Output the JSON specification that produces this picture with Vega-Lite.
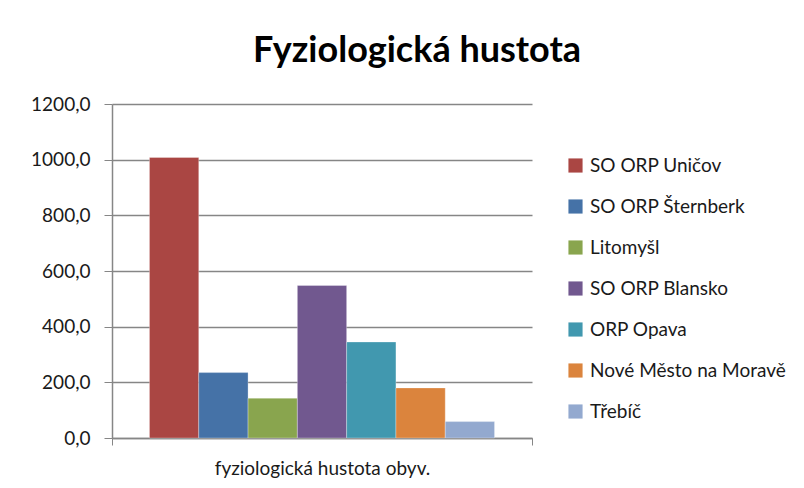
{
  "$schema": "https://vega.github.io/schema/vega-lite/v6.json",
  "autosize": {"type": "none"},
  "padding": {"left": 112, "top": 104, "right": 272, "bottom": 50},
  "width": 420,
  "height": 334,
  "background": "white",
  "title": {
    "text": "Fyziologická hustota",
    "font": "Lato",
    "fontSize": 36,
    "fontWeight": "bold",
    "color": "#000000",
    "anchor": "middle",
    "frame": "group",
    "baseline": "alphabetic",
    "offset": -3,
    "dx": 95
  },
  "data": {
    "values": [
      {"category": "fyziologická hustota obyv.", "region": "SO ORP Uničov", "value": 1008},
      {"category": "fyziologická hustota obyv.", "region": "SO ORP Šternberk", "value": 235},
      {"category": "fyziologická hustota obyv.", "region": "Litomyšl", "value": 143},
      {"category": "fyziologická hustota obyv.", "region": "SO ORP Blansko", "value": 548},
      {"category": "fyziologická hustota obyv.", "region": "ORP Opava", "value": 345},
      {"category": "fyziologická hustota obyv.", "region": "Nové Město na Moravě", "value": 180},
      {"category": "fyziologická hustota obyv.", "region": "Třebíč", "value": 59}
    ]
  },
  "mark": {"type": "bar", "stroke": "white", "strokeWidth": 0.5, "strokeOpacity": 0.6},
  "encoding": {
    "x": {
      "field": "category",
      "type": "nominal",
      "scale": {"paddingInner": 0, "paddingOuter": 0},
      "axis": {
        "title": null,
        "labelAngle": 0,
        "labelFont": "Lato",
        "labelFontSize": 19,
        "labelColor": "#1a1a1a",
        "labelPadding": 14,
        "labelLimit": 400,
        "tickBand": "extent",
        "tickSize": 7,
        "tickColor": "#868686",
        "domainColor": "#868686",
        "domainWidth": 1.5
      }
    },
    "xOffset": {
      "field": "region",
      "type": "nominal",
      "sort": ["SO ORP Uničov", "SO ORP Šternberk", "Litomyšl", "SO ORP Blansko", "ORP Opava", "Nové Město na Moravě", "Třebíč"],
      "scale": {"paddingInner": 0, "paddingOuter": 0.76}
    },
    "y": {
      "field": "value",
      "type": "quantitative",
      "scale": {"domain": [0, 1200], "nice": false},
      "axis": {
        "title": null,
        "values": [0, 200, 400, 600, 800, 1000, 1200],
        "format": ".1f",
        "labelFont": "Lato",
        "labelFontSize": 19,
        "labelColor": "#1a1a1a",
        "labelPadding": 14,
        "tickSize": 8,
        "tickColor": "#868686",
        "domainColor": "#868686",
        "domainWidth": 1.5,
        "grid": true,
        "gridColor": "#868686",
        "gridWidth": 1.5
      }
    },
    "color": {
      "field": "region",
      "type": "nominal",
      "sort": ["SO ORP Uničov", "SO ORP Šternberk", "Litomyšl", "SO ORP Blansko", "ORP Opava", "Nové Město na Moravě", "Třebíč"],
      "scale": {
        "domain": ["SO ORP Uničov", "SO ORP Šternberk", "Litomyšl", "SO ORP Blansko", "ORP Opava", "Nové Město na Moravě", "Třebíč"],
        "range": ["#AA4643", "#4572A7", "#89A54E", "#71588F", "#4198AF", "#DB843D", "#93A9CF"]
      },
      "legend": {
        "title": null,
        "orient": "none",
        "legendX": 454,
        "legendY": 52,
        "symbolType": "square",
        "symbolSize": 200,
        "symbolStrokeWidth": 0,
        "labelFont": "Lato",
        "labelFontSize": 19,
        "labelColor": "#1a1a1a",
        "labelOffset": 5,
        "rowPadding": 21,
        "labelLimit": 300
      }
    }
  },
  "config": {
    "locale": {
      "number": {"decimal": ",", "thousands": " ", "grouping": [3], "currency": ["", ""]}
    },
    "view": {"stroke": null}
  }
}
